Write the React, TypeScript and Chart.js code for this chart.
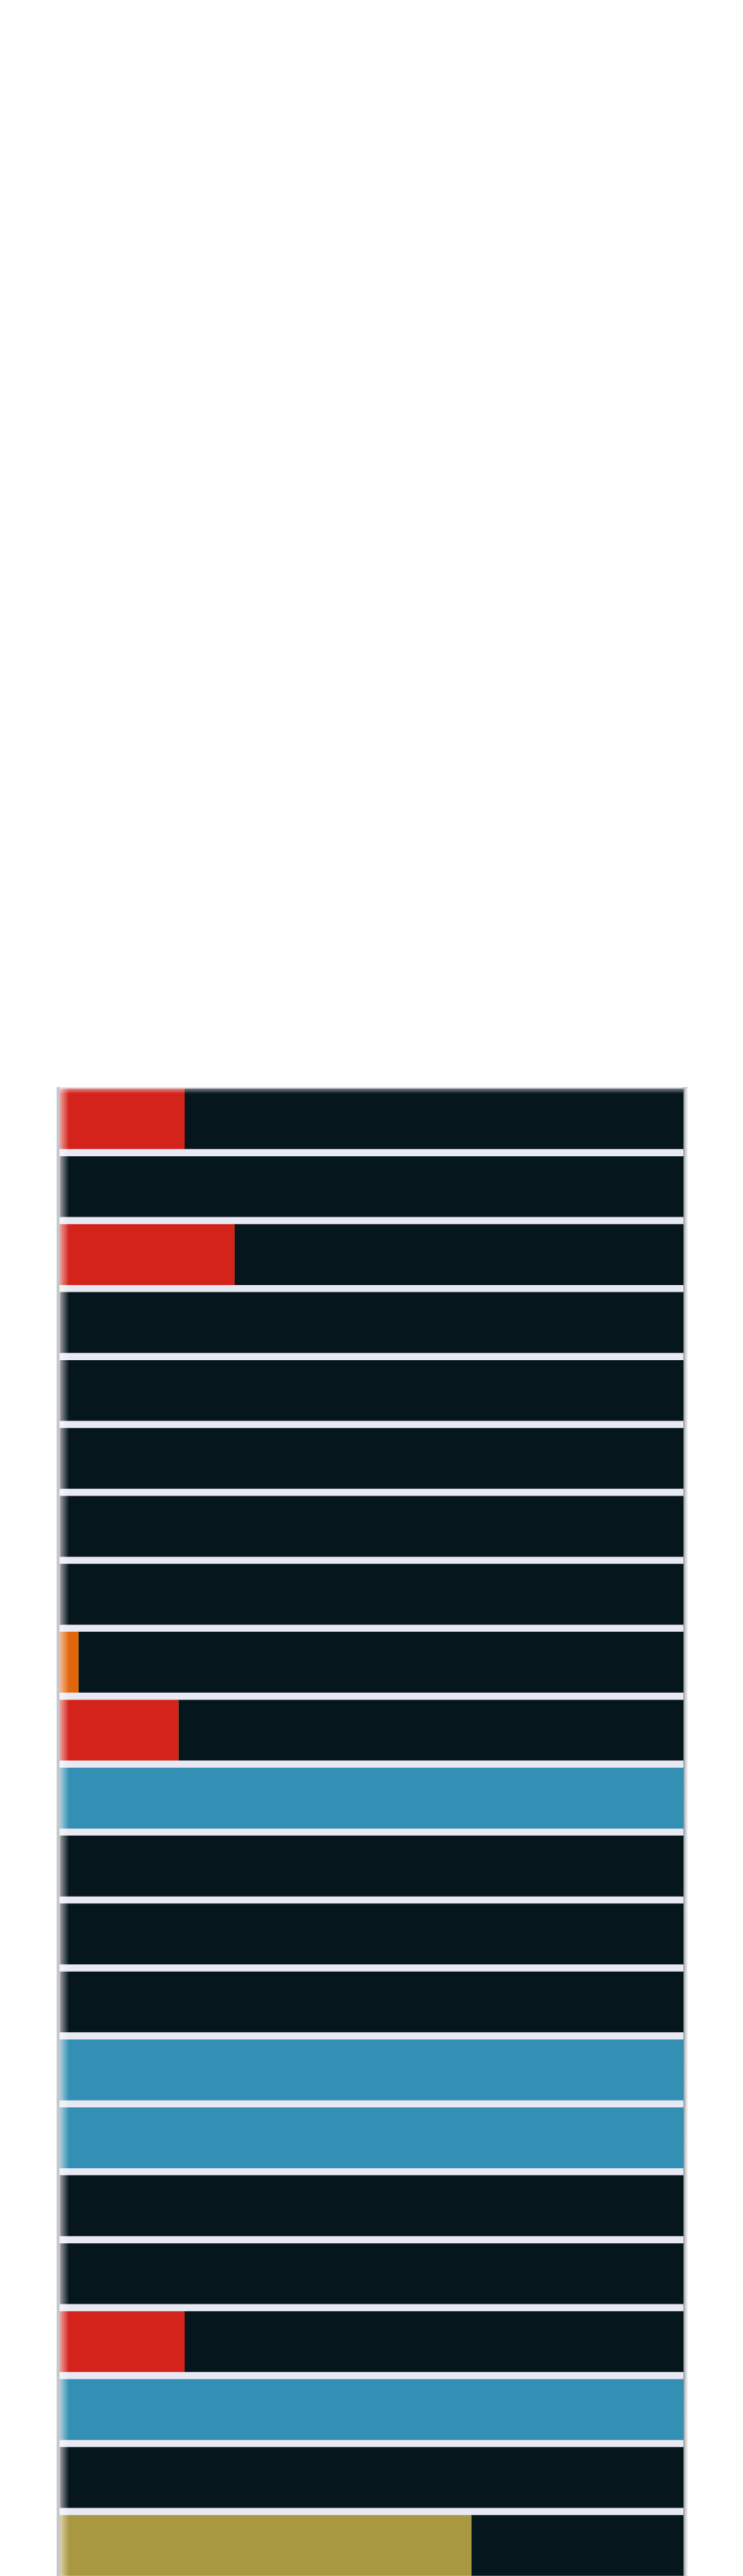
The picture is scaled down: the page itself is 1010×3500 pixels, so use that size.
import React, { useEffect, useRef } from "react";
import { Chart, registerables } from "chart.js";

Chart.register(...registerables);

const categories = [
  "Row 1", "Row 2", "Row 3", "Row 4", "Row 5", "Row 6", "Row 7", "Row 8",
  "Row 9", "Row 10", "Row 11", "Row 12", "Row 13", "Row 14", "Row 15", "Row 16",
  "Row 17", "Row 18", "Row 19", "Row 20", "Row 21", "Row 22",
];

const redValues = [20, 0, 28, 0, 0, 0, 0, 0, 0, 19, 0, 0, 0, 0, 0, 0, 0, 0, 20, 0, 0, 0];
const orangeValues = [0, 0, 0, 0, 0, 0, 0, 0, 3, 0, 0, 0, 0, 0, 0, 0, 0, 0, 0, 0, 0, 0];
const blueValues = [0, 0, 0, 0, 0, 0, 0, 0, 0, 0, 100, 0, 0, 0, 100, 100, 0, 0, 0, 100, 0, 0];
const oliveValues = [0, 0, 0, 0, 0, 0, 0, 0, 0, 0, 0, 0, 0, 0, 0, 0, 0, 0, 0, 0, 0, 66];
const restValues = [80, 100, 72, 100, 100, 100, 100, 100, 97, 81, 0, 100, 100, 100, 0, 0, 100, 100, 80, 0, 100, 34];

const RED = "#D3231A";
const ORANGE = "#E1650A";
const BLUE = "#338FB4";
const OLIVE = "#A99842";
const DARK = "#06161D";
const GAP = "#E8E9F3";

const toPoints = (vals: number[]) => vals.map((v, i) => ({ x: v, y: i }));

const framePlugin = {
  id: "frame",
  beforeDatasetsDraw(chart: any) {
    const { ctx, chartArea } = chart;
    ctx.save();
    ctx.fillStyle = GAP;
    ctx.fillRect(chartArea.left, chartArea.top, chartArea.right - chartArea.left, chartArea.bottom - chartArea.top);
    ctx.restore();
  },
  afterDatasetsDraw(chart: any) {
    const { ctx, chartArea } = chart;
    const { left, right, top, bottom } = chartArea;
    ctx.save();
    // left fade
    const lg = ctx.createLinearGradient(left, 0, left + 13, 0);
    lg.addColorStop(0, "rgba(255,255,255,0.6)");
    lg.addColorStop(1, "rgba(255,255,255,0)");
    ctx.fillStyle = lg;
    ctx.fillRect(left, top, 13, bottom - top);
    // top fade
    const tg = ctx.createLinearGradient(0, top, 0, top + 7);
    tg.addColorStop(0, "rgba(255,255,255,0.45)");
    tg.addColorStop(1, "rgba(255,255,255,0)");
    ctx.fillStyle = tg;
    ctx.fillRect(left, top, right - left, 7);
    // left border
    ctx.fillStyle = "#C3C9CC";
    ctx.fillRect(left - 4, top - 2, 4, bottom - top + 2);
    // right border fade
    const rg = ctx.createLinearGradient(right, 0, right + 6, 0);
    rg.addColorStop(0, "rgba(120,130,136,0.9)");
    rg.addColorStop(1, "rgba(200,205,208,0.2)");
    ctx.fillStyle = rg;
    ctx.fillRect(right, top - 2, 6, bottom - top + 2);
    // top border line
    ctx.fillStyle = "rgba(200,205,208,0.6)";
    ctx.fillRect(left - 4, top - 2, right - left + 10, 2);
    ctx.restore();
  },
};

export default function App() {
  const ref = useRef<HTMLCanvasElement | null>(null);

  useEffect(() => {
    if (!ref.current) return;
    const common = { barThickness: 82, borderWidth: 0, borderSkipped: false };
    const chart = new Chart(ref.current, {
      type: "bar",
      data: {
        datasets: [
          { label: "Red", data: toPoints(redValues), backgroundColor: RED, ...common },
          { label: "Orange", data: toPoints(orangeValues), backgroundColor: ORANGE, ...common },
          { label: "Blue", data: toPoints(blueValues), backgroundColor: BLUE, ...common },
          { label: "Olive", data: toPoints(oliveValues), backgroundColor: OLIVE, ...common },
          { label: "Rest", data: toPoints(restValues), backgroundColor: DARK, ...common },
        ] as any,
      },
      options: {
        indexAxis: "y",
        animation: false,
        responsive: false,
        maintainAspectRatio: false,
        devicePixelRatio: 1,
        layout: { padding: { top: 1471, left: 73, right: 73, bottom: 0 } },
        plugins: {
          legend: { display: false },
          tooltip: {
            callbacks: {
              title: (items: any[]) => categories[items[0].parsed.y] ?? "",
            },
          },
        },
        scales: {
          x: { type: "linear", min: 0, max: 100, stacked: true, display: false, offset: false },
          y: {
            type: "linear",
            reverse: true,
            min: -0.444,
            max: 21.45,
            stacked: true,
            display: false,
            offset: false,
            grace: 0,
          },
        },
      } as any,
      plugins: [framePlugin],
    });
    return () => chart.destroy();
  }, []);

  return (
    <div style={{ width: 994, height: 3492 }}>
      <canvas ref={ref} width={994} height={3492} style={{ display: "block" }} />
    </div>
  );
}
